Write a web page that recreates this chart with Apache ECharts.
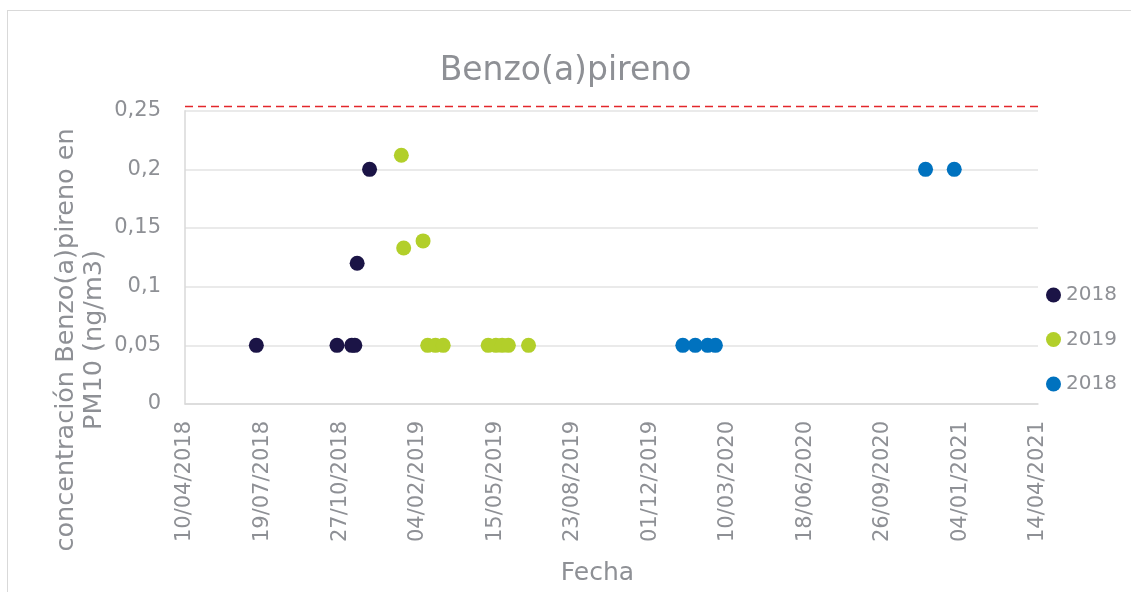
<!DOCTYPE html>
<html>
<head>
<meta charset="utf-8">
<script src="https://cdn.jsdelivr.net/npm/echarts@6/dist/echarts.min.js"></script>
<style>
  html, body { margin: 0; padding: 0; background: #fff; overflow: hidden; }
  #frame { position: absolute; left: 7px; top: 10px; right: -10px; bottom: -10px; border: 1px solid #d9d9d9; }
  #chart { position: absolute; left: 0; top: 0; width: 1131px; height: 592px; }
</style>
</head>
<body>
<div id="frame"></div>
<div id="chart"></div>
<script>
// Sampling dates (dd/mm/yyyy) and concentrations per campaign
const dates2018 = ['11/07/2018', '23/10/2018', '11/11/2018', '15/11/2018', '18/11/2018', '04/12/2018'];
const values2018 = [0.05, 0.05, 0.05, 0.05, 0.12, 0.2];

const dates2019 = ['14/01/2019', '17/01/2019', '11/02/2019', '17/02/2019', '27/02/2019', '09/03/2019',
                   '06/05/2019', '16/05/2019', '24/05/2019', '01/06/2019', '27/06/2019'];
const values2019 = [0.212, 0.133, 0.139, 0.05, 0.05, 0.05, 0.05, 0.05, 0.05, 0.05, 0.05];

const datesB = ['12/01/2020', '28/01/2020', '13/02/2020', '23/02/2020', '20/11/2020', '27/12/2020'];
const valuesB = [0.05, 0.05, 0.05, 0.05, 0.2, 0.2];

// Reference level line
const limitValue = 0.2535;

const seriesNames = ['2018', '2019', '2018'];
const xStart = '10/04/2018';
const xEnd = '14/04/2021';
const yTicks = [0, 0.05, 0.1, 0.15, 0.2, 0.25];

// dd/mm/yyyy -> spreadsheet day serial (1900 system)
function toSerial(s) {
  const [d, m, y] = s.split('/').map(Number);
  return Date.UTC(y, m - 1, d) / 86400000 + 25569;
}
function fromSerial(n) {
  const dt = new Date((n - 25569) * 86400000);
  const p = v => String(v).padStart(2, '0');
  return p(dt.getUTCDate()) + '/' + p(dt.getUTCMonth() + 1) + '/' + dt.getUTCFullYear();
}
const pairs = (ds, vs) => ds.map((d, i) => [toSerial(d), vs[i]]);

const FONT = 'DejaVu Sans';
const GREY = '#8e9095';
const colors = ['#1b1446', '#b2cf2a', '#0072bf'];

const chart = echarts.init(document.getElementById('chart'));
chart.setOption({
  animation: false,
  textStyle: { fontFamily: FONT },
  title: {
    text: 'Benzo(a)pireno',
    left: 'center',
    top: 50,
    textStyle: { fontFamily: FONT, fontSize: 33, fontWeight: 'normal', color: GREY }
  },
  legend: {
    orient: 'vertical',
    left: 1041,
    top: 280,
    itemWidth: 15,
    itemHeight: 15,
    itemGap: 24.5,
    icon: 'circle',
    data: [{ name: 's0' }, { name: 's1' }, { name: 's2' }],
    formatter: n => seriesNames[Number(n.slice(1))],
    textStyle: { fontFamily: FONT, fontSize: 20, color: GREY }
  },
  grid: { left: 185, right: 93, top: 110.7, bottom: 188, outerBoundsMode: 'none', containLabel: false },
  xAxis: {
    type: 'value',
    min: toSerial(xStart),
    max: toSerial(xEnd),
    interval: 100,
    name: 'Fecha',
    nameLocation: 'middle',
    nameGap: 157,
    nameTextStyle: { fontFamily: FONT, fontSize: 25, color: GREY, padding: [0, 28, 0, 0] },
    axisLine: { show: true, lineStyle: { color: '#d9d9d9', width: 1.5 } },
    axisTick: { show: false },
    splitLine: { show: false },
    axisLabel: {
      rotate: 90,
      margin: 17,
      fontFamily: FONT,
      fontSize: 21,
      color: GREY,
      formatter: v => fromSerial(v)
    }
  },
  yAxis: {
    type: 'value',
    min: yTicks[0],
    max: yTicks[yTicks.length - 1],
    interval: 0.05,
    axisLine: { show: true, lineStyle: { color: '#d9d9d9', width: 1.5 } },
    axisTick: { show: false },
    splitLine: { show: true, lineStyle: { color: '#e3e3e3', width: 1.5 } },
    axisLabel: {
      margin: 24,
      fontFamily: FONT,
      fontSize: 21,
      color: GREY,
      formatter: v => String(Math.round(v * 100) / 100).replace('.', ',')
    }
  },
  graphic: [{
    type: 'text',
    x: 80,
    y: 340,
    rotation: Math.PI / 2,
    style: {
      text: 'concentración Benzo(a)pireno en\nPM10 (ng/m3)',
      fontFamily: FONT,
      fontSize: 25.5,
      lineHeight: 28,
      fill: GREY,
      align: 'center',
      verticalAlign: 'middle'
    }
  }],
  series: [
    {
      name: 'limit', type: 'line', silent: true, clip: false, symbol: 'none',
      data: [[toSerial(xStart), limitValue], [toSerial(xEnd) + 6, limitValue]],
      lineStyle: { color: '#e3262b', width: 1.5, type: [8, 5] }
    },
    { name: 's0', type: 'scatter', symbolSize: 15, itemStyle: { color: colors[0], opacity: 1 }, data: pairs(dates2018, values2018) },
    { name: 's1', type: 'scatter', symbolSize: 15, itemStyle: { color: colors[1], opacity: 1 }, data: pairs(dates2019, values2019) },
    { name: 's2', type: 'scatter', symbolSize: 15, itemStyle: { color: colors[2], opacity: 1 }, data: pairs(datesB, valuesB) }
  ]
});
</script>
</body>
</html>
